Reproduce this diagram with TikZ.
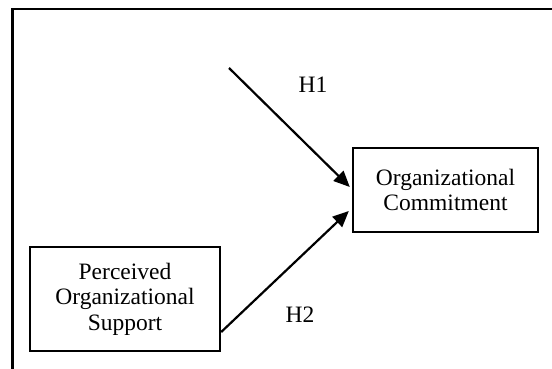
\documentclass[tikz,border=0pt]{standalone}
\usepackage{fontspec}
\setmainfont{Liberation Serif}
\usetikzlibrary{arrows.meta}
\begin{document}
\begin{tikzpicture}[x=1pt,y=-1pt,
  box/.style={draw,line width=2.4pt,align=center,inner sep=0pt,
    font=\fontsize{23.5}{25.5}\selectfont},
  lbl/.style={font=\fontsize{23.5}{25.5}\selectfont,inner sep=0pt},
  conn/.style={line width=2.2pt,-{Triangle[length=16pt,width=14pt]}}]
\useasboundingbox (0,0) rectangle (552,369);
\draw[line width=2.6pt] (12.5,369) -- (12.5,9) -- (552,9);
\node[box,minimum width=190pt,minimum height=104pt] (pos) at (125,299)
  {Perceived\\Organizational\\Support};
\node[box,minimum width=185pt,minimum height=84pt] (oc) at (445.5,190)
  {Organizational\\Commitment};
\coordinate (s1) at (229,68);
\coordinate (e1) at ([yshift=3pt,xshift=-2pt]oc.west);
\coordinate (s2) at ([yshift=-33pt]pos.east);
\coordinate (e2) at ([yshift=-21pt,xshift=-3pt]oc.west);
\draw[conn] (s1) -- (e1);
\draw[conn] (s2) -- (e2);
\node[lbl] (h1) at (313,85) {H1};
\node[lbl] (h2) at (300,315) {H2};
\end{tikzpicture}
\end{document}
